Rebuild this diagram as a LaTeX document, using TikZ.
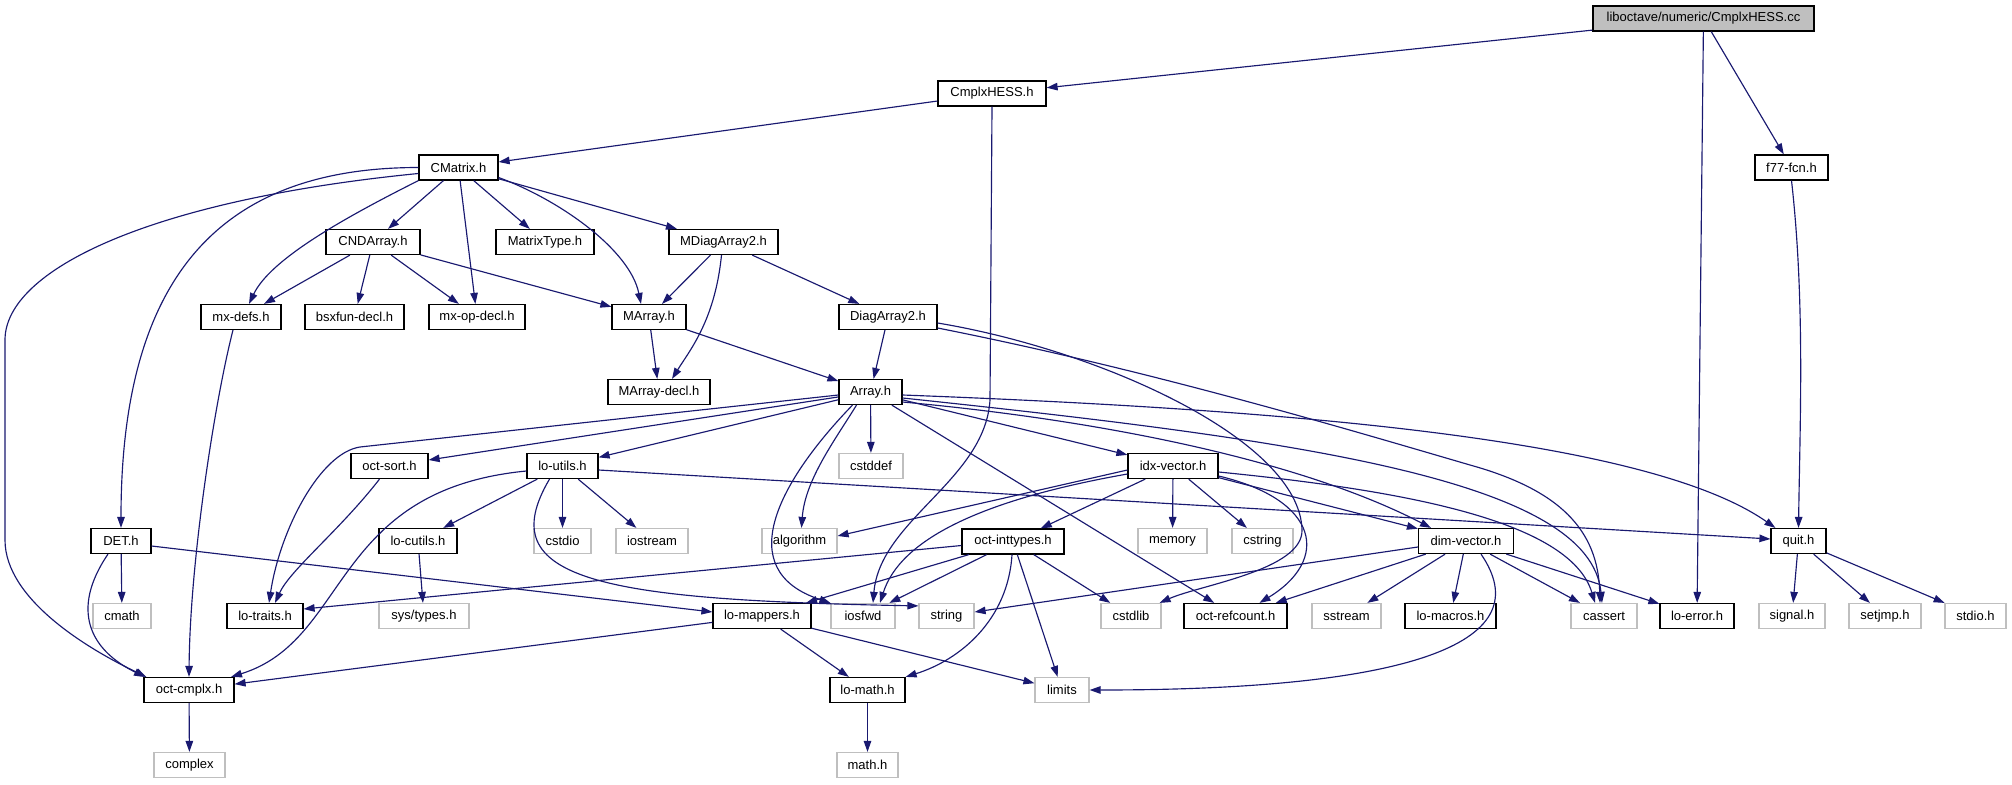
\documentclass[tikz,border=0pt]{standalone}
\usepackage{fontspec}
\setmainfont{Liberation Sans}
\usetikzlibrary{arrows.meta}
\definecolor{edgeblue}{HTML}{191970}
\definecolor{greyseventyfive}{HTML}{BFBFBF}
\begin{document}
\begin{tikzpicture}[x=1pt,y=1pt,
  box/.style={draw=black, line width=1.2pt, fill=white, minimum height=25pt,
    inner xsep=3pt, inner ysep=0pt, font=\fontsize{13}{14}\selectfont, text=black},
  sysbox/.style={box, draw=greyseventyfive},
  rootbox/.style={box, fill=greyseventyfive},
  bw/.style={minimum width=#1pt},
  e/.style={draw=edgeblue, line width=1.15pt, -{Triangle[length=11pt,width=7.5pt]}}]
\useasboundingbox (0,0) rectangle (2012,-784);
% nodes
\node[rootbox,bw=221] (root) at (1703.5,-18.5) {liboctave/numeric/CmplxHESS.cc};
\node[box,bw=108] (CmplxHESSh) at (992,-93.5) {CmplxHESS.h};
\node[box,bw=73] (f77fcn) at (1791.5,-167.5) {f77-fcn.h};
\node[box,bw=79] (CMatrix) at (458.5,-167.5) {CMatrix.h};
\node[box,bw=94] (CNDArray) at (373,-242) {CNDArray.h};
\node[box,bw=98] (MatrixType) at (545,-242) {MatrixType.h};
\node[box,bw=109] (MDiagArray2) at (723.5,-242) {MDiagArray2.h};
\node[box,bw=80] (mxdefs) at (241,-317) {mx-defs.h};
\node[box,bw=99] (bsxfun) at (354.5,-317) {bsxfun-decl.h};
\node[box,bw=96] (mxopdecl) at (477,-317) {mx-op-decl.h};
\node[box,bw=74] (MArray) at (649,-317) {MArray.h};
\node[box,bw=98] (DiagArray2) at (888,-317) {DiagArray2.h};
\node[box,bw=102] (MArraydecl) at (659,-392) {MArray-decl.h};
\node[box,bw=63] (Array) at (870.5,-392) {Array.h};
\node[box,bw=77] (octsort) at (389.5,-466) {oct-sort.h};
\node[box,bw=71] (loutils) at (562.5,-466) {lo-utils.h};
\node[sysbox,bw=64] (cstddef) at (871,-466) {cstddef};
\node[box,bw=90] (idxvector) at (1173,-466) {idx-vector.h};
\node[box,bw=60] (DET) at (121,-541) {DET.h};
\node[box,bw=78] (locutils) at (418,-541) {lo-cutils.h};
\node[sysbox,bw=57] (cstdio) at (562.5,-541) {cstdio};
\node[sysbox,bw=72] (iostream) at (652,-541) {iostream};
\node[sysbox,bw=75] (algorithm) at (799.5,-541) {algorithm};
\node[box,bw=102] (octinttypes) at (1013,-541.5) {oct-inttypes.h};
\node[sysbox,bw=69] (memory) at (1172.5,-541) {memory};
\node[sysbox,bw=61] (cstring) at (1262.5,-541) {cstring};
\node[box,bw=95] (dimvector) at (1466,-541) {dim-vector.h};
\node[box,bw=55] (quit) at (1798.5,-541) {quit.h};
\node[sysbox,bw=58] (cmath) at (122,-616) {cmath};
\node[box,bw=76] (lotraits) at (265,-616) {lo-traits.h};
\node[sysbox,bw=90] (systypes) at (424,-616) {sys/types.h};
\node[box,bw=98] (lomappers) at (762,-616) {lo-mappers.h};
\node[sysbox,bw=64] (iosfwd) at (863,-616) {iosfwd};
\node[sysbox,bw=55] (string) at (946.5,-616) {string};
\node[sysbox,bw=60] (cstdlib) at (1131,-616) {cstdlib};
\node[box,bw=103] (octrefcount) at (1235.5,-616) {oct-refcount.h};
\node[sysbox,bw=69] (sstream) at (1346.5,-616) {sstream};
\node[box,bw=91] (lomacros) at (1450.5,-616) {lo-macros.h};
\node[sysbox,bw=66] (cassert) at (1604,-616) {cassert};
\node[box,bw=74] (loerror) at (1697,-616) {lo-error.h};
\node[sysbox,bw=66] (signal) at (1792,-616) {signal.h};
\node[sysbox,bw=72] (setjmp) at (1885,-616) {setjmp.h};
\node[sysbox,bw=61] (stdio) at (1975.5,-616) {stdio.h};
\node[box,bw=90] (octcmplx) at (189,-690) {oct-cmplx.h};
\node[box,bw=75] (lomath) at (867.5,-690) {lo-math.h};
\node[sysbox,bw=54] (limits) at (1062,-690) {limits};
\node[sysbox,bw=71] (complex) at (189.5,-765) {complex};
\node[sysbox,bw=61] (mathh) at (867.5,-765) {math.h};
% edges
\draw[e] (root) -- (CmplxHESSh);
\draw[e] (root) -- (loerror);
\draw[e] (root) -- (f77fcn);
\draw[e] (CmplxHESSh) -- (CMatrix);
\draw[e] (CmplxHESSh.south) -- (990,-400) .. controls (985,-480) and (880,-520) .. ([xshift=10pt]iosfwd.north);
\draw[e] (f77fcn.south) .. controls (1805,-300) and (1800,-420) .. (quit.north);
\draw[e] (CMatrix) -- (CNDArray);
\draw[e] (CMatrix) -- (MatrixType);
\draw[e] (CMatrix) -- (MDiagArray2);
\draw[e] (CMatrix) -- (mxopdecl);
\draw[e] (CMatrix.south west) .. controls (340,-220) and (270,-260) .. ([xshift=8pt]mxdefs.north);
\draw[e] ([yshift=-10pt]CMatrix.east) .. controls (560,-200) and (630,-250) .. ([xshift=-8pt]MArray.north);
\draw[e] (CMatrix.west) .. controls (219,-167.5) and (121,-278) .. (DET.north);
\draw[e] ([yshift=-6pt]CMatrix.west) .. controls (150,-200) and (5,-270) .. (5,-340) -- (5,-540) .. controls (5,-600) and (90,-650) .. ([xshift=3pt]octcmplx.north west);
\draw[e] (CNDArray) -- (mxdefs);
\draw[e] (CNDArray) -- (bsxfun);
\draw[e] (CNDArray) -- (mxopdecl);
\draw[e] (CNDArray) -- (MArray);
\draw[e] (MDiagArray2) -- (MArray);
\draw[e] ([xshift=-2pt]MDiagArray2.south) .. controls (715,-320) and (690,-350) .. ([xshift=13pt]MArraydecl.north);
\draw[e] (MDiagArray2) -- (DiagArray2);
\draw[e] ([xshift=-8pt]mxdefs.south) .. controls (215,-400) and (190,-560) .. (octcmplx.north);
\draw[e] (MArray) -- (MArraydecl);
\draw[e] (MArray) -- (Array);
\draw[e] (DiagArray2) -- (Array);
\draw[e] ([yshift=-6pt]DiagArray2.east) .. controls (1100,-350) and (1300,-440) .. (1302,-530) .. controls (1303,-570) and (1200,-585) .. ([xshift=-2pt]cstdlib.north east);
\draw[e] ([yshift=-11pt]DiagArray2.east) .. controls (1150,-370) and (1350,-430) .. (1470,-465) .. controls (1560,-490) and (1598,-530) .. ([xshift=-4pt]cassert.north);
% Array.h
\draw[e] ([yshift=-3pt]Array.west) -- (360,-447) .. controls (320,-453) and (280,-530) .. ([xshift=4pt]lotraits.north);
\draw[e] (Array) -- (octsort);
\draw[e] (Array) -- (loutils);
\draw[e] (Array) -- (cstddef);
\draw[e] ([xshift=-14pt]Array.south) .. controls (835,-440) and (805,-480) .. ([xshift=2pt]algorithm.north);
\draw[e] ([xshift=-18pt]Array.south) .. controls (780,-480) and (730,-570) .. (iosfwd.north west);
\draw[e] (Array) -- (octrefcount);
\draw[e] (Array) -- (idxvector);
\draw[e] ([yshift=-10pt]Array.east) .. controls (1100,-420) and (1300,-460) .. ([xshift=-35pt]dimvector.north);
\draw[e] ([yshift=-6pt]Array.east) .. controls (1300,-440) and (1590,-480) .. ([xshift=-2pt]cassert.north);
\draw[e] ([yshift=-3pt]Array.east) .. controls (1300,-410) and (1650,-440) .. ([xshift=5pt]quit.north west);
% oct-sort, lo-utils
\draw[e] ([xshift=-10pt]octsort.south) .. controls (340,-530) and (290,-570) .. ([xshift=10pt]lotraits.north);
\draw[e] ([yshift=-5pt]loutils.west) .. controls (330,-490) and (350,-640) .. ([xshift=42pt]octcmplx.north);
\draw[e] (loutils) -- (locutils);
\draw[e] (loutils) -- (cstdio);
\draw[e] (loutils) -- (iostream);
\draw[e] ([xshift=-13pt]loutils.south) .. controls (490,-580) and (600,-600) .. ([yshift=-3pt]string.north west);
\draw[e] ([yshift=-4pt]loutils.east) -- ([yshift=2pt]quit.west);
\draw[e] (locutils) -- (systypes);
% DET
\draw[e] (DET) -- (cmath);
\draw[e] ([xshift=-13pt]DET.south) .. controls (70,-610) and (90,-650) .. ([xshift=-44pt]octcmplx.north);
\draw[e] ([yshift=-5pt]DET.east) -- ([yshift=4pt]lomappers.west);
% idx-vector
\draw[e] ([yshift=-4pt]idxvector.west) -- ([yshift=5pt]algorithm.east);
\draw[e] ([yshift=-8pt]idxvector.west) .. controls (980,-500) and (900,-540) .. ([xshift=17pt]iosfwd.north);
\draw[e] (idxvector) -- (octinttypes);
\draw[e] (idxvector) -- (memory);
\draw[e] (idxvector) -- (cstring);
\draw[e] (idxvector) -- (dimvector);
\draw[e] ([yshift=-10pt]idxvector.east) .. controls (1320,-500) and (1330,-560) .. ([xshift=24pt]octrefcount.north);
\draw[e] ([yshift=-6pt]idxvector.east) .. controls (1400,-490) and (1570,-520) .. ([xshift=-9pt]cassert.north);
% oct-inttypes
\draw[e] ([yshift=-4pt]octinttypes.west) -- ([yshift=7pt]lotraits.east);
\draw[e] (octinttypes) -- (lomappers);
\draw[e] (octinttypes) -- (iosfwd);
\draw[e] (octinttypes) -- (cstdlib);
\draw[e] (octinttypes) -- (limits);
\draw[e] ([xshift=-1pt]octinttypes.south) .. controls (1008,-620) and (960,-660) .. (lomath.north east);
% dim-vector
\draw[e] ([yshift=-6pt]dimvector.west) -- ([yshift=4pt]string.east);
\draw[e] (dimvector) -- (octrefcount);
\draw[e] (dimvector) -- (sstream);
\draw[e] (dimvector) -- (lomacros);
\draw[e] (dimvector) -- (cassert);
\draw[e] (dimvector) -- (loerror);
\draw[e] ([xshift=15pt]dimvector.south) .. controls (1540,-640) and (1420,-690) .. (limits.east);
% lo-mappers etc.
\draw[e] (lomappers) -- (octcmplx);
\draw[e] (lomappers) -- (lomath);
\draw[e] (lomappers) -- (limits);
\draw[e] (lomath) -- (mathh);
\draw[e] (octcmplx) -- (complex);
\draw[e] (quit) -- (signal);
\draw[e] (quit) -- (setjmp);
\draw[e] (quit) -- (stdio);
\end{tikzpicture}
\end{document}
